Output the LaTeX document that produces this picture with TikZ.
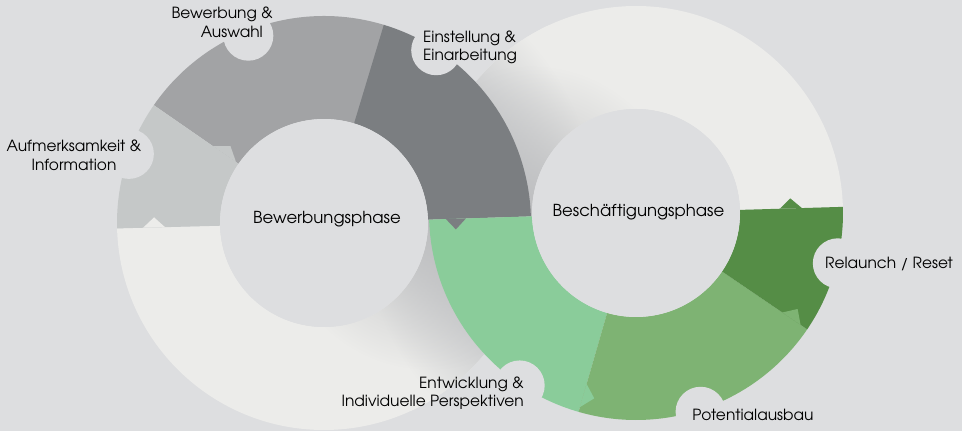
\documentclass[tikz,border=0pt]{standalone}
\usepackage{fontspec}
\setmainfont{texgyreadventor}[Extension=.otf,UprightFont=*-regular]
\usetikzlibrary{calc,fadings}

\definecolor{bgcol}{HTML}{DDDEE0}
\definecolor{ringw}{HTML}{ECECEA}
\definecolor{edgeshd}{HTML}{D0D1D2}
\definecolor{shd}{HTML}{BDBEC0}
\definecolor{aufmcol}{HTML}{C5C8C8}
\definecolor{bewcol}{HTML}{A2A3A5}
\definecolor{einscol}{HTML}{7B7E81}
\definecolor{entwcol}{HTML}{8ACC9A}
\definecolor{potcol}{HTML}{7EB373}
\definecolor{relcol}{HTML}{558D46}

% path box of radius 300 maps to 25bp
\pgfdeclareradialshading{edgeshade}{\pgfpoint{0bp}{0bp}}{color(0bp)=(edgeshd); color(17.25bp)=(edgeshd); color(23bp)=(ringw); color(25bp)=(ringw); color(50bp)=(ringw)}
\tikzfading[name=crossfade, inner color=transparent!0, outer color=transparent!100]

% ring piece: centre, from, to
\newcommand{\ringpath}[3]{($(#1)+(#2:207)$) arc[start angle=#2, end angle=#3, radius=207] -- ($(#1)+(#3:104)$) arc[start angle=#3, end angle=#2, radius=104] -- cycle}
% arrow tip: centre, angle, radius, tip angle, half width, colour
\newcommand{\ringtip}[6]{\fill[#6] ($(#1)+({#2}:{#3-#5})$) -- ($(#1)+({#4}:{#3})$) -- ($(#1)+({#2}:{#3+#5})$) -- cycle;}

\begin{document}
\begin{tikzpicture}[x=1pt,y=1pt]
	\tikzstyle{every node}=[font=\fontsize{15.4}{18.5}\selectfont, inner sep=0pt]
	\tikzstyle{phase}=[font=\fontsize{16.5}{20}\selectfont, anchor=base]
	\useasboundingbox (0,0) rectangle (962,431);
	\fill[bgcol] (0,0) rectangle (962,431);
	\coordinate (L) at (324,208);
	\coordinate (Rc) at (636,218);
	\coordinate (P) at ($(L)+(1.84:207)$);
	\coordinate (Q) at ($(Rc)+(181.84:207)$);
	
	% white parts, shadowed by the other ring
	\fill[ringw] \ringpath{Rc}{1.7}{181.84};
	\begin{scope}
	\clip \ringpath{Rc}{1.7}{181.84};
	\shade[shading=edgeshade] (L) circle (300);
	\fill[shd, path fading=crossfade] (P) circle (150);
	\end{scope}
	\fill[ringw] \ringpath{L}{181.5}{361.84};
	\begin{scope}
	\clip \ringpath{L}{181.5}{361.84};
	\shade[shading=edgeshade] (Rc) circle (300);
	\fill[shd, path fading=crossfade] (Q) circle (150);
	\end{scope}
	
	% left ring
	\fill[bewcol] \ringpath{L}{73}{145.3};
	\fill[aufmcol] \ringpath{L}{145.3}{181.5};
	\fill[einscol] \ringpath{L}{1.84}{73.2};
	
	% right ring
	\fill[entwcol] \ringpath{Rc}{181.84}{253.9};
	\fill[potcol] \ringpath{Rc}{253.9}{325.8};
	\fill[relcol] \ringpath{Rc}{325.8}{361.7};
	
	\ringtip{L}{181.5}{170}{178.1}{11}{ringw}
	\ringtip{L}{145.3}{121}{140.6}{14}{aufmcol}
	\ringtip{L}{1.84}{132}{-2.8}{10}{einscol}
	\ringtip{Rc}{253.9}{190}{257.3}{12}{entwcol}
	\ringtip{Rc}{325.8}{188}{329.3}{11}{potcol}
	\ringtip{Rc}{1.7}{155}{5.4}{11}{relcol}
	
	\fill[bgcol] (L) circle (104);
	\fill[bgcol] (Rc) circle (104);
	
	% bites for the labels
	\fill[bgcol] ($(L)+(160.5:207)$) circle (25);
	\fill[bgcol] ($(L)+(112:202)$) circle (25);
	\fill[bgcol] ($(L)+(57:206)$) circle (25);
	\fill[bgcol] ($(Rc)+(-14:208)$) circle (25);
	\fill[bgcol] ($(Rc)+(-72:209)$) circle (25);
	\fill[bgcol] ($(Rc)+(236:208)$) circle (25);
	
	\node[phase] (bewphase) at (327,207) {Bewerbungsphase};
	\node[phase] (beschphase) at (638.5,214.3) {Beschäftigungsphase};
	\node[align=right, anchor=east] (bewer) at (273,408.7) {Bewerbung \&\\Auswahl\hspace*{10pt}};
	\node[align=center] (aufm) at (74,275.7) {Aufmerksamkeit \&\\Information};
	\node[align=left, anchor=west] (einst) at (423,383.5) {Einstellung \&\\Einarbeitung};
	\node[align=right, anchor=east] (entw) at (524,37.7) {Entwicklung \&\\Individuelle Perspektiven};
	\node[anchor=base] (pot) at (753,10.3) {Potentialausbau};
	\node[anchor=base west] (relaunch) at (825,162.7) {Relaunch / Reset};
	
\end{tikzpicture}
\end{document}
